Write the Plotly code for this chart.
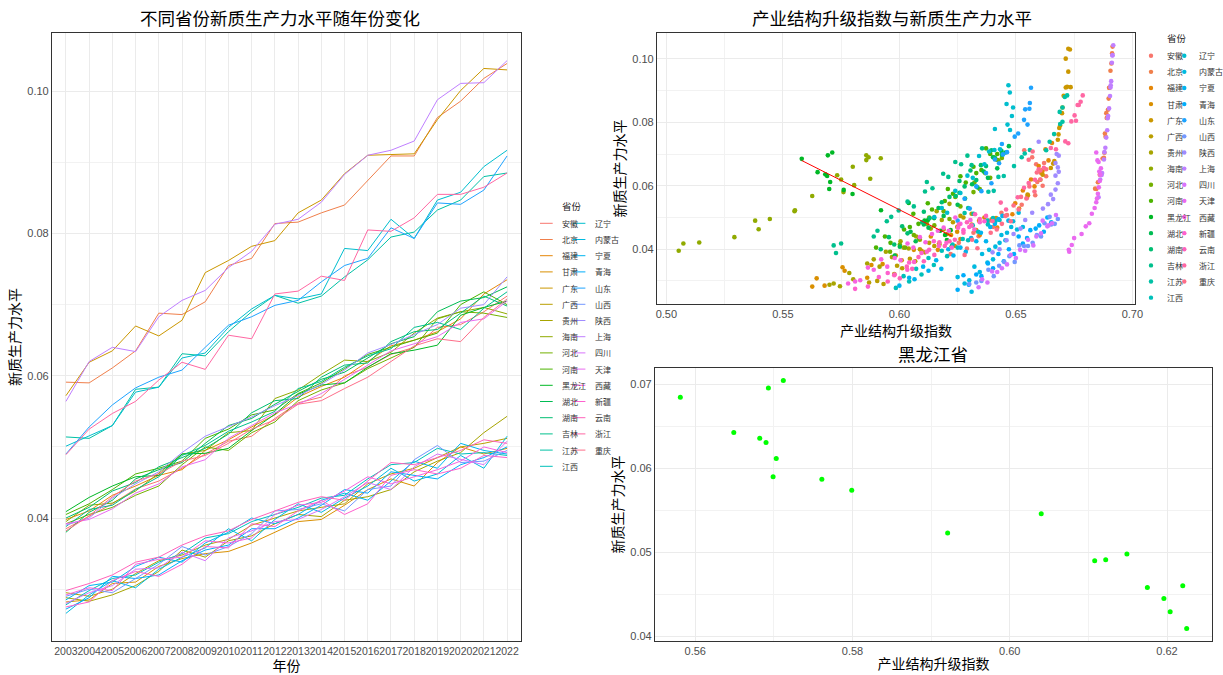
import math
import numpy as np
import plotly.graph_objects as go

# ---------------- data ----------------
years = [2003, 2004, 2005, 2006, 2007, 2008, 2009, 2010, 2011, 2012,
         2013, 2014, 2015, 2016, 2017, 2018, 2019, 2020, 2021, 2022]
year_labels = [str(y) for y in years]

provinces = ["安徽", "北京", "福建", "甘肃", "广东", "广西", "贵州", "海南", "河北", "河南",
             "黑龙江", "湖北", "湖南", "吉林", "江苏", "江西", "辽宁", "内蒙古", "宁夏", "青海",
             "山东", "山西", "陕西", "上海", "四川", "天津", "西藏", "新疆", "云南", "浙江", "重庆"]

# 新质生产力水平 (by year 2003..2022)
lvl_anhui = [0.0385, 0.0402, 0.0420, 0.0441, 0.0452, 0.0470, 0.0490, 0.0508, 0.0515, 0.0540, 0.0562, 0.0570, 0.0600, 0.0612, 0.0630, 0.0640, 0.0668, 0.0672, 0.0690, 0.0712]
lvl_beijing = [0.0591, 0.0590, 0.0611, 0.0635, 0.0688, 0.0686, 0.0704, 0.0755, 0.0765, 0.0814, 0.0816, 0.0829, 0.0840, 0.0875, 0.0909, 0.0909, 0.0963, 0.0986, 0.1018, 0.1039]
lvl_fujian = [0.0398, 0.0410, 0.0432, 0.0445, 0.0460, 0.0468, 0.0495, 0.0510, 0.0528, 0.0545, 0.0570, 0.0585, 0.0598, 0.0620, 0.0642, 0.0650, 0.0662, 0.0680, 0.0715, 0.0735]
lvl_gansu = [0.0282, 0.0285, 0.0308, 0.0310, 0.0332, 0.0343, 0.0350, 0.0353, 0.0365, 0.0380, 0.0395, 0.0398, 0.0418, 0.0440, 0.0455, 0.0445, 0.0478, 0.0500, 0.0490, 0.0498]
lvl_guangdong = [0.0572, 0.0619, 0.0635, 0.0670, 0.0656, 0.0678, 0.0745, 0.0762, 0.0782, 0.0790, 0.0829, 0.0847, 0.0884, 0.0910, 0.0911, 0.0912, 0.0960, 0.1001, 0.1032, 0.1030]
lvl_guangxi = [0.0295, 0.0290, 0.0300, 0.0322, 0.0340, 0.0348, 0.0362, 0.0370, 0.0390, 0.0400, 0.0410, 0.0415, 0.0420, 0.0448, 0.0462, 0.0470, 0.0485, 0.0500, 0.0505, 0.0512]
lvl_guizhou = [0.0288, 0.0283, 0.0292, 0.0305, 0.0325, 0.0355, 0.0345, 0.0368, 0.0375, 0.0392, 0.0405, 0.0402, 0.0425, 0.0430, 0.0440, 0.0465, 0.0480, 0.0492, 0.0520, 0.0543]
lvl_hainan = [0.0395, 0.0418, 0.0421, 0.0438, 0.0463, 0.0490, 0.0495, 0.0520, 0.0523, 0.0568, 0.0580, 0.0602, 0.0622, 0.0620, 0.0633, 0.0660, 0.0681, 0.0690, 0.0696, 0.0687]
lvl_hebei = [0.0392, 0.0405, 0.0415, 0.0432, 0.0445, 0.0475, 0.0500, 0.0495, 0.0520, 0.0535, 0.0565, 0.0580, 0.0590, 0.0610, 0.0625, 0.0640, 0.0680, 0.0690, 0.0688, 0.0682]
lvl_henan = [0.0405, 0.0420, 0.0440, 0.0462, 0.0470, 0.0480, 0.0512, 0.0525, 0.0545, 0.0552, 0.0575, 0.0590, 0.0610, 0.0630, 0.0640, 0.0650, 0.0660, 0.0700, 0.0718, 0.0700]
lvl_heilongjiang = [0.0409, 0.0429, 0.0445, 0.0458, 0.0460, 0.0490, 0.0491, 0.0498, 0.0523, 0.0546, 0.0574, 0.0587, 0.0590, 0.0612, 0.0631, 0.0636, 0.0643, 0.0685, 0.0696, 0.0705]
lvl_hubei = [0.0380, 0.0408, 0.0425, 0.0455, 0.0468, 0.0478, 0.0505, 0.0530, 0.0540, 0.0560, 0.0578, 0.0595, 0.0605, 0.0625, 0.0645, 0.0655, 0.0690, 0.0705, 0.0710, 0.0725]
lvl_hunan = [0.0400, 0.0415, 0.0438, 0.0450, 0.0472, 0.0485, 0.0498, 0.0518, 0.0548, 0.0565, 0.0568, 0.0598, 0.0615, 0.0618, 0.0648, 0.0662, 0.0665, 0.0688, 0.0712, 0.0698]
lvl_jilin = [0.0388, 0.0412, 0.0418, 0.0440, 0.0458, 0.0488, 0.0502, 0.0522, 0.0535, 0.0550, 0.0582, 0.0592, 0.0612, 0.0628, 0.0638, 0.0668, 0.0675, 0.0665, 0.0695, 0.0718]
lvl_jiangsu = [0.0514, 0.0512, 0.0530, 0.0581, 0.0584, 0.0631, 0.0628, 0.0662, 0.0690, 0.0713, 0.0702, 0.0712, 0.0739, 0.0763, 0.0795, 0.0802, 0.0833, 0.0847, 0.0880, 0.0885]
lvl_jiangxi = [0.0278, 0.0298, 0.0315, 0.0320, 0.0338, 0.0350, 0.0372, 0.0378, 0.0395, 0.0405, 0.0415, 0.0428, 0.0432, 0.0455, 0.0475, 0.0478, 0.0498, 0.0490, 0.0492, 0.0488]
lvl_liaoning = [0.0501, 0.0515, 0.0530, 0.0577, 0.0584, 0.0625, 0.0632, 0.0668, 0.0694, 0.0713, 0.0708, 0.0715, 0.0779, 0.0776, 0.0820, 0.0793, 0.0847, 0.0858, 0.0894, 0.0917]
lvl_neimenggu = [0.0266, 0.0292, 0.0312, 0.0302, 0.0328, 0.0345, 0.0358, 0.0385, 0.0368, 0.0398, 0.0420, 0.0408, 0.0428, 0.0445, 0.0470, 0.0452, 0.0462, 0.0488, 0.0470, 0.0515]
lvl_ningxia = [0.0285, 0.0305, 0.0310, 0.0332, 0.0345, 0.0338, 0.0365, 0.0380, 0.0400, 0.0392, 0.0405, 0.0425, 0.0435, 0.0425, 0.0452, 0.0480, 0.0470, 0.0505, 0.0495, 0.0490]
lvl_qinghai = [0.0272, 0.0288, 0.0318, 0.0315, 0.0320, 0.0340, 0.0355, 0.0362, 0.0385, 0.0385, 0.0400, 0.0418, 0.0440, 0.0435, 0.0465, 0.0460, 0.0455, 0.0475, 0.0485, 0.0500]
lvl_shandong = [0.0490, 0.0528, 0.0559, 0.0583, 0.0598, 0.0608, 0.0640, 0.0671, 0.0683, 0.0699, 0.0706, 0.0732, 0.0755, 0.0765, 0.0808, 0.0793, 0.0843, 0.0841, 0.0861, 0.0909]
lvl_shanxi = [0.0290, 0.0300, 0.0295, 0.0315, 0.0335, 0.0360, 0.0348, 0.0360, 0.0378, 0.0410, 0.0412, 0.0420, 0.0410, 0.0440, 0.0445, 0.0482, 0.0502, 0.0478, 0.0480, 0.0495]
lvl_shaanxi = [0.0390, 0.0400, 0.0428, 0.0448, 0.0465, 0.0492, 0.0515, 0.0528, 0.0542, 0.0558, 0.0572, 0.0588, 0.0608, 0.0632, 0.0644, 0.0658, 0.0672, 0.0695, 0.0700, 0.0739]
lvl_shanghai = [0.0564, 0.0620, 0.0640, 0.0634, 0.0683, 0.0706, 0.0720, 0.0752, 0.0775, 0.0813, 0.0820, 0.0844, 0.0883, 0.0910, 0.0917, 0.0930, 0.0988, 0.1011, 0.1012, 0.1043]
lvl_sichuan = [0.0280, 0.0295, 0.0305, 0.0328, 0.0330, 0.0352, 0.0340, 0.0372, 0.0382, 0.0395, 0.0398, 0.0412, 0.0430, 0.0450, 0.0440, 0.0472, 0.0490, 0.0482, 0.0475, 0.0508]
lvl_tianjin = [0.0392, 0.0398, 0.0413, 0.0435, 0.0448, 0.0472, 0.0482, 0.0512, 0.0530, 0.0548, 0.0560, 0.0575, 0.0595, 0.0615, 0.0635, 0.0645, 0.0655, 0.0675, 0.0680, 0.0705]
lvl_xizang = [0.0292, 0.0302, 0.0298, 0.0335, 0.0342, 0.0345, 0.0368, 0.0365, 0.0372, 0.0405, 0.0418, 0.0422, 0.0438, 0.0458, 0.0448, 0.0458, 0.0468, 0.0480, 0.0500, 0.0492]
lvl_xinjiang = [0.0275, 0.0282, 0.0312, 0.0325, 0.0318, 0.0335, 0.0360, 0.0358, 0.0392, 0.0388, 0.0410, 0.0425, 0.0405, 0.0420, 0.0460, 0.0468, 0.0462, 0.0470, 0.0488, 0.0485]
lvl_yunnan = [0.0298, 0.0308, 0.0320, 0.0338, 0.0345, 0.0362, 0.0375, 0.0382, 0.0398, 0.0410, 0.0422, 0.0430, 0.0425, 0.0452, 0.0478, 0.0475, 0.0485, 0.0495, 0.0510, 0.0505]
lvl_zhejiang = [0.0489, 0.0525, 0.0547, 0.0564, 0.0594, 0.0619, 0.0609, 0.0657, 0.0652, 0.0715, 0.0719, 0.0740, 0.0734, 0.0805, 0.0803, 0.0822, 0.0855, 0.0855, 0.0865, 0.0885]
lvl_chongqing = [0.0382, 0.0403, 0.0430, 0.0452, 0.0462, 0.0480, 0.0488, 0.0505, 0.0525, 0.0538, 0.0560, 0.0565, 0.0582, 0.0598, 0.0620, 0.0642, 0.0652, 0.0648, 0.0682, 0.0708]

# 产业结构升级指数 (by year 2003..2022)
isu_anhui = [0.6220, 0.6290, 0.6255, 0.6340, 0.6318, 0.6402, 0.6385, 0.6462, 0.6438, 0.6525, 0.6548, 0.6583, 0.6615, 0.6592, 0.6630, 0.6608, 0.6587, 0.6621, 0.6570, 0.6536]
isu_beijing = [0.6840, 0.6845, 0.6852, 0.6860, 0.6878, 0.6872, 0.6880, 0.6885, 0.6882, 0.6890, 0.6893, 0.6888, 0.6895, 0.6898, 0.6902, 0.6900, 0.6906, 0.6910, 0.6913, 0.6915]
isu_fujian = [0.6165, 0.6238, 0.6262, 0.6345, 0.6330, 0.6420, 0.6398, 0.6485, 0.6514, 0.6497, 0.6552, 0.6530, 0.6580, 0.6565, 0.6612, 0.6616, 0.6598, 0.6640, 0.6627, 0.6655]
isu_gansu = [0.5626, 0.5679, 0.5645, 0.5862, 0.5765, 0.5756, 0.5880, 0.5928, 0.6010, 0.5985, 0.6095, 0.6062, 0.6170, 0.6135, 0.6248, 0.6222, 0.6310, 0.6365, 0.6342, 0.6415]
isu_guangdong = [0.6550, 0.6605, 0.6615, 0.6660, 0.6650, 0.6665, 0.6680, 0.6683, 0.6686, 0.6690, 0.6698, 0.6700, 0.6705, 0.6714, 0.6735, 0.6720, 0.6725, 0.6714, 0.6725, 0.6732]
isu_guangxi = [0.5870, 0.5932, 0.5905, 0.5978, 0.6012, 0.5990, 0.6068, 0.6045, 0.6110, 0.6088, 0.6150, 0.6172, 0.6128, 0.6205, 0.6190, 0.6248, 0.6230, 0.6275, 0.6262, 0.6310]
isu_guizhou = [0.5700, 0.5745, 0.5718, 0.5802, 0.5785, 0.5862, 0.5915, 0.5890, 0.5968, 0.5942, 0.6018, 0.6040, 0.6005, 0.6088, 0.6072, 0.6135, 0.6118, 0.6182, 0.6160, 0.6215]
isu_hainan = [0.5053, 0.5073, 0.5141, 0.5292, 0.5396, 0.5381, 0.5444, 0.5550, 0.5552, 0.5626, 0.5760, 0.5806, 0.5875, 0.5750, 0.5733, 0.5800, 0.5858, 0.5868, 0.5858, 0.5920]
isu_hebei = [0.5960, 0.6025, 0.6002, 0.6085, 0.6062, 0.6150, 0.6128, 0.6215, 0.6190, 0.6262, 0.6240, 0.6318, 0.6345, 0.6322, 0.6390, 0.6368, 0.6425, 0.6405, 0.6440, 0.6418]
isu_henan = [0.5900, 0.5962, 0.5938, 0.6020, 0.6045, 0.6082, 0.6060, 0.6140, 0.6122, 0.6195, 0.6230, 0.6208, 0.6285, 0.6262, 0.6330, 0.6352, 0.6318, 0.6390, 0.6372, 0.6420]
isu_heilongjiang = [0.6225, 0.6204, 0.6196, 0.6175, 0.6220, 0.6108, 0.6122, 0.6149, 0.5921, 0.6040, 0.5799, 0.5761, 0.5699, 0.5703, 0.5690, 0.5682, 0.5649, 0.5581, 0.5693, 0.5712]
isu_hubei = [0.5980, 0.6002, 0.6070, 0.6048, 0.6125, 0.6105, 0.6190, 0.6168, 0.6250, 0.6282, 0.6258, 0.6335, 0.6312, 0.6380, 0.6362, 0.6420, 0.6402, 0.6455, 0.6438, 0.6470]
isu_hunan = [0.5920, 0.5978, 0.5955, 0.6035, 0.6012, 0.6098, 0.6130, 0.6105, 0.6182, 0.6215, 0.6242, 0.6280, 0.6258, 0.6330, 0.6305, 0.6372, 0.6350, 0.6410, 0.6395, 0.6440]
isu_jilin = [0.5728, 0.5718, 0.5750, 0.5890, 0.5906, 0.5946, 0.5965, 0.5997, 0.6062, 0.6035, 0.6110, 0.6142, 0.6118, 0.6210, 0.6188, 0.6265, 0.6240, 0.6310, 0.6292, 0.6355]
isu_jiangsu = [0.6280, 0.6318, 0.6295, 0.6382, 0.6405, 0.6448, 0.6425, 0.6492, 0.6525, 0.6560, 0.6538, 0.6630, 0.6645, 0.6664, 0.6690, 0.6700, 0.6688, 0.6700, 0.6710, 0.6720]
isu_jiangxi = [0.5985, 0.6042, 0.6018, 0.6095, 0.6072, 0.6148, 0.6125, 0.6205, 0.6182, 0.6250, 0.6228, 0.6295, 0.6272, 0.6338, 0.6315, 0.6380, 0.6402, 0.6378, 0.6430, 0.6412]
isu_liaoning = [0.6150, 0.6205, 0.6182, 0.6262, 0.6240, 0.6315, 0.6292, 0.6365, 0.6342, 0.6408, 0.6385, 0.6432, 0.6410, 0.6475, 0.6483, 0.6464, 0.6488, 0.6460, 0.6474, 0.6468]
isu_neimenggu = [0.6310, 0.6280, 0.6250, 0.6300, 0.6345, 0.6322, 0.6378, 0.6355, 0.6402, 0.6385, 0.6430, 0.6412, 0.6455, 0.6438, 0.6480, 0.6462, 0.6505, 0.6488, 0.6530, 0.6512]
isu_ningxia = [0.6000, 0.6065, 0.6042, 0.6125, 0.6102, 0.6180, 0.6158, 0.6232, 0.6210, 0.6285, 0.6262, 0.6330, 0.6308, 0.6372, 0.6350, 0.6410, 0.6390, 0.6442, 0.6425, 0.6468]
isu_qinghai = [0.6250, 0.6298, 0.6275, 0.6352, 0.6330, 0.6402, 0.6380, 0.6448, 0.6425, 0.6492, 0.6470, 0.6530, 0.6512, 0.6548, 0.6585, 0.6562, 0.6620, 0.6600, 0.6652, 0.6635]
isu_shandong = [0.6250, 0.6302, 0.6280, 0.6352, 0.6330, 0.6395, 0.6372, 0.6428, 0.6410, 0.6445, 0.6462, 0.6440, 0.6495, 0.6510, 0.6535, 0.6550, 0.6558, 0.6540, 0.6560, 0.6565]
isu_shanxi = [0.6300, 0.6352, 0.6330, 0.6405, 0.6382, 0.6450, 0.6428, 0.6495, 0.6472, 0.6535, 0.6515, 0.6572, 0.6552, 0.6608, 0.6590, 0.6623, 0.6645, 0.6652, 0.6667, 0.6680]
isu_shaanxi = [0.6400, 0.6430, 0.6460, 0.6490, 0.6520, 0.6540, 0.6570, 0.6616, 0.6638, 0.6660, 0.6650, 0.6670, 0.6680, 0.6670, 0.6684, 0.6680, 0.6670, 0.6684, 0.6675, 0.6598]
isu_shanghai = [0.6855, 0.6862, 0.6870, 0.6868, 0.6878, 0.6880, 0.6884, 0.6888, 0.6892, 0.6894, 0.6896, 0.6900, 0.6904, 0.6906, 0.6907, 0.6909, 0.6912, 0.6914, 0.6915, 0.6918]
isu_sichuan = [0.6340, 0.6378, 0.6355, 0.6420, 0.6398, 0.6462, 0.6440, 0.6500, 0.6478, 0.6540, 0.6518, 0.6575, 0.6552, 0.6608, 0.6588, 0.6635, 0.6615, 0.6655, 0.6640, 0.6672]
isu_tianjin = [0.6729, 0.6727, 0.6740, 0.6750, 0.6782, 0.6800, 0.6815, 0.6826, 0.6838, 0.6845, 0.6848, 0.6852, 0.6856, 0.6860, 0.6862, 0.6858, 0.6865, 0.6855, 0.6850, 0.6845]
isu_xizang = [0.5780, 0.5832, 0.5810, 0.5890, 0.5865, 0.5948, 0.5922, 0.6005, 0.5980, 0.6060, 0.6035, 0.6112, 0.6088, 0.6165, 0.6140, 0.6212, 0.6190, 0.6262, 0.6240, 0.6305]
isu_xinjiang = [0.5810, 0.5865, 0.5912, 0.5950, 0.5978, 0.6034, 0.6063, 0.6042, 0.6118, 0.6095, 0.6170, 0.6148, 0.6225, 0.6202, 0.6275, 0.6252, 0.6322, 0.6300, 0.6365, 0.6345]
isu_yunnan = [0.5950, 0.6002, 0.5980, 0.6055, 0.6032, 0.6105, 0.6082, 0.6150, 0.6128, 0.6195, 0.6172, 0.6238, 0.6215, 0.6275, 0.6255, 0.6310, 0.6290, 0.6345, 0.6325, 0.6372]
isu_zhejiang = [0.6400, 0.6458, 0.6435, 0.6508, 0.6535, 0.6582, 0.6555, 0.6620, 0.6598, 0.6672, 0.6650, 0.6712, 0.6725, 0.6758, 0.6738, 0.6752, 0.6770, 0.6765, 0.6778, 0.6787]
isu_chongqing = [0.6280, 0.6335, 0.6312, 0.6392, 0.6418, 0.6440, 0.6478, 0.6455, 0.6512, 0.6490, 0.6545, 0.6522, 0.6580, 0.6558, 0.6605, 0.6590, 0.6630, 0.6605, 0.6555, 0.6572]

level = {
    "安徽": lvl_anhui, "北京": lvl_beijing, "福建": lvl_fujian, "甘肃": lvl_gansu,
    "广东": lvl_guangdong, "广西": lvl_guangxi, "贵州": lvl_guizhou, "海南": lvl_hainan,
    "河北": lvl_hebei, "河南": lvl_henan, "黑龙江": lvl_heilongjiang, "湖北": lvl_hubei,
    "湖南": lvl_hunan, "吉林": lvl_jilin, "江苏": lvl_jiangsu, "江西": lvl_jiangxi,
    "辽宁": lvl_liaoning, "内蒙古": lvl_neimenggu, "宁夏": lvl_ningxia, "青海": lvl_qinghai,
    "山东": lvl_shandong, "山西": lvl_shanxi, "陕西": lvl_shaanxi, "上海": lvl_shanghai,
    "四川": lvl_sichuan, "天津": lvl_tianjin, "西藏": lvl_xizang, "新疆": lvl_xinjiang,
    "云南": lvl_yunnan, "浙江": lvl_zhejiang, "重庆": lvl_chongqing,
}
isu = {
    "安徽": isu_anhui, "北京": isu_beijing, "福建": isu_fujian, "甘肃": isu_gansu,
    "广东": isu_guangdong, "广西": isu_guangxi, "贵州": isu_guizhou, "海南": isu_hainan,
    "河北": isu_hebei, "河南": isu_henan, "黑龙江": isu_heilongjiang, "湖北": isu_hubei,
    "湖南": isu_hunan, "吉林": isu_jilin, "江苏": isu_jiangsu, "江西": isu_jiangxi,
    "辽宁": isu_liaoning, "内蒙古": isu_neimenggu, "宁夏": isu_ningxia, "青海": isu_qinghai,
    "山东": isu_shandong, "山西": isu_shanxi, "陕西": isu_shaanxi, "上海": isu_shanghai,
    "四川": isu_sichuan, "天津": isu_tianjin, "西藏": isu_xizang, "新疆": isu_xinjiang,
    "云南": isu_yunnan, "浙江": isu_zhejiang, "重庆": isu_chongqing,
}

# ---------------- style helpers ----------------
W, H = 1223, 675


def hcl_hex(h, c=100.0, l=65.0):
    hr = math.radians(h)
    u, v = c * math.cos(hr), c * math.sin(hr)
    Xn, Yn, Zn = 95.047, 100.0, 108.883
    Y = Yn * ((l + 16) / 116) ** 3
    den = Xn + 15 * Yn + 3 * Zn
    un, vn = 4 * Xn / den, 9 * Yn / den
    up, vp = u / (13 * l) + un, v / (13 * l) + vn
    X = Y * 9 * up / (4 * vp)
    Z = Y * (12 - 3 * up - 20 * vp) / (4 * vp)
    X, Y, Z = X / 100, Y / 100, Z / 100
    rgb = [3.240479 * X - 1.537150 * Y - 0.498535 * Z,
           -0.969256 * X + 1.875992 * Y + 0.041556 * Z,
           0.055648 * X - 0.204043 * Y + 1.057311 * Z]
    out = []
    for ch in rgb:
        ch = 12.92 * ch if ch <= 0.0031308 else 1.055 * ch ** (1 / 2.4) - 0.055
        out.append(int(round(min(max(ch, 0), 1) * 255)))
    return "#%02X%02X%02X" % tuple(out)


n = len(provinces)
colors = {p: hcl_hex(15 + i * 360.0 / n) for i, p in enumerate(provinces)}


def fx(px):
    return px / W


def fy(py):
    return 1 - py / H


def padded(vals, frac=0.05):
    lo, hi = min(vals), max(vals)
    s = hi - lo
    return [lo - frac * s, hi + frac * s]


CJK = "Noto Sans CJK SC, sans-serif"
NUM = "Liberation Sans, Arial, sans-serif"

# ---------------- traces ----------------
fig = go.Figure()

for p in provinces:
    fig.add_trace(go.Scatter(x=years, y=level[p], mode="lines", name=p,
                             line=dict(color=colors[p], width=1),
                             xaxis="x", yaxis="y", showlegend=False))

for p in provinces:
    fig.add_trace(go.Scatter(x=isu[p], y=level[p], mode="markers", name=p,
                             marker=dict(color=colors[p], size=4.6, line=dict(width=0)),
                             xaxis="x2", yaxis="y2", showlegend=False))

k, b = np.polyfit(isu_heilongjiang, lvl_heilongjiang, 1)
fit_x = [min(isu_heilongjiang), max(isu_heilongjiang)]
fit_y = [k * v + b for v in fit_x]
fig.add_trace(go.Scatter(x=fit_x, y=fit_y, mode="lines", name="黑龙江 拟合",
                         line=dict(color="red", width=1), xaxis="x2", yaxis="y2",
                         showlegend=False))

fig.add_trace(go.Scatter(x=isu_heilongjiang, y=lvl_heilongjiang, mode="markers", name="黑龙江",
                         marker=dict(color="#00FF00", size=5, line=dict(width=0)),
                         xaxis="x3", yaxis="y3", showlegend=False))

# ---------------- axes ----------------
all_lvl = [v for p in provinces for v in level[p]]
all_isu = [v for p in provinces for v in isu[p]]

base = dict(showline=True, linecolor="#333333", linewidth=1.2, mirror=True, ticks="",
            showgrid=True, gridcolor="#EBEBEB", gridwidth=1, zeroline=False,
            tickfont=dict(family=NUM, size=11, color="#4D4D4D"))
tfont = dict(family=CJK, size=14, color="#000000")

fig.update_layout(
    width=W, height=H,
    margin=dict(l=0, r=0, t=0, b=0, autoexpand=False),
    paper_bgcolor="white", plot_bgcolor="white",
    showlegend=False,
    xaxis=dict(base, domain=[fx(52), fx(521)], anchor="y", range=[2002.4, 2022.6],
               tickmode="array", tickvals=years, ticktext=year_labels, tickangle=0,
               tickfont=dict(family=NUM, size=10.5, color="#4D4D4D"),
               title=dict(text="年份", font=tfont, standoff=2)),
    yaxis=dict(base, domain=[fy(641), fy(33)], anchor="x", range=padded(all_lvl),
               tickmode="array", tickvals=[0.04, 0.06, 0.08, 0.10],
               ticktext=["0.04", "0.06", "0.08", "0.10"],
               minor=dict(tickvals=[0.03, 0.05, 0.07, 0.09], showgrid=True,
                          gridcolor="#F2F2F2", gridwidth=0.8),
               title=dict(text="新质生产力水平", font=tfont, standoff=3)),
    xaxis2=dict(base, domain=[fx(657), fx(1135)], anchor="y2", range=padded(all_isu),
                tickmode="array", tickvals=[0.50, 0.55, 0.60, 0.65, 0.70],
                ticktext=["0.50", "0.55", "0.60", "0.65", "0.70"], tickangle=0,
                minor=dict(tickvals=[0.525, 0.575, 0.625, 0.675], showgrid=True,
                           gridcolor="#F2F2F2", gridwidth=0.8),
                title=dict(text="产业结构升级指数", font=tfont, standoff=2)),
    yaxis2=dict(base, domain=[fy(304), fy(33)], anchor="x2", range=padded(all_lvl),
                tickmode="array", tickvals=[0.04, 0.06, 0.08, 0.10],
                ticktext=["0.04", "0.06", "0.08", "0.10"],
                minor=dict(tickvals=[0.03, 0.05, 0.07, 0.09], showgrid=True,
                           gridcolor="#F2F2F2", gridwidth=0.8),
                title=dict(text="新质生产力水平", font=tfont, standoff=3)),
    xaxis3=dict(base, domain=[fx(655), fx(1212)], anchor="y3", range=padded(isu_heilongjiang),
                tickmode="array", tickvals=[0.56, 0.58, 0.60, 0.62],
                ticktext=["0.56", "0.58", "0.60", "0.62"], tickangle=0,
                minor=dict(tickvals=[0.57, 0.59, 0.61], showgrid=True,
                           gridcolor="#F2F2F2", gridwidth=0.8),
                title=dict(text="产业结构升级指数", font=tfont, standoff=2)),
    yaxis3=dict(base, domain=[fy(641), fy(368)], anchor="x3", range=padded(lvl_heilongjiang),
                tickmode="array", tickvals=[0.04, 0.05, 0.06, 0.07],
                ticktext=["0.04", "0.05", "0.06", "0.07"],
                minor=dict(tickvals=[0.045, 0.055, 0.065], showgrid=True,
                           gridcolor="#F2F2F2", gridwidth=0.8),
                title=dict(text="新质生产力水平", font=tfont, standoff=3)),
)

# ---------------- titles ----------------
titles = [("不同省份新质生产力水平随年份变化", 280, 17),
          ("产业结构升级指数与新质生产力水平", 892, 17),
          ("黑龙江省", 933, 353)]
for txt, cx, cy in titles:
    fig.add_annotation(text=txt, x=fx(cx), y=fy(cy), xref="paper", yref="paper",
                       showarrow=False, xanchor="center", yanchor="middle",
                       font=dict(family=CJK, size=17.5, color="#000000"))

# ---------------- legends (two columns each) ----------------
shapes = []
leg_font = dict(family=CJK, size=8, color="#333333")
leg_title_font = dict(family=CJK, size=9.5, color="#222222")

fig.add_annotation(text="省份", x=fx(560), y=fy(206), xref="paper", yref="paper",
                   showarrow=False, xanchor="left", yanchor="middle", font=leg_title_font)
fig.add_annotation(text="省份", x=fx(1165), y=fy(37.5), xref="paper", yref="paper",
                   showarrow=False, xanchor="left", yanchor="middle", font=leg_title_font)

for i, p in enumerate(provinces):
    col = 0 if i < 16 else 1
    row = i if i < 16 else i - 16
    # left chart legend (line keys)
    yy = 223.3 + row * 16.2
    lx0 = 540 if col == 0 else 572.7
    shapes.append(dict(type="line", xref="paper", yref="paper",
                       x0=fx(lx0), x1=fx(lx0 + 12.7), y0=fy(yy), y1=fy(yy),
                       line=dict(color=colors[p], width=1)))
    fig.add_annotation(text=p, x=fx(560 if col == 0 else 593.3), y=fy(yy),
                       xref="paper", yref="paper", showarrow=False,
                       xanchor="left", yanchor="middle", font=leg_font)
    # scatter legend (point keys)
    yy2 = 55.7 + row * 16.13
    cx = 1151 if col == 0 else 1184.3
    r = 2.2
    shapes.append(dict(type="circle", xref="paper", yref="paper",
                       x0=fx(cx - r), x1=fx(cx + r), y0=fy(yy2 + r), y1=fy(yy2 - r),
                       fillcolor=colors[p], line=dict(width=0)))
    fig.add_annotation(text=p, x=fx(1165 if col == 0 else 1197), y=fy(yy2),
                       xref="paper", yref="paper", showarrow=False,
                       xanchor="left", yanchor="middle", font=leg_font)

fig.update_layout(shapes=shapes)

fig.write_html("out.html")
